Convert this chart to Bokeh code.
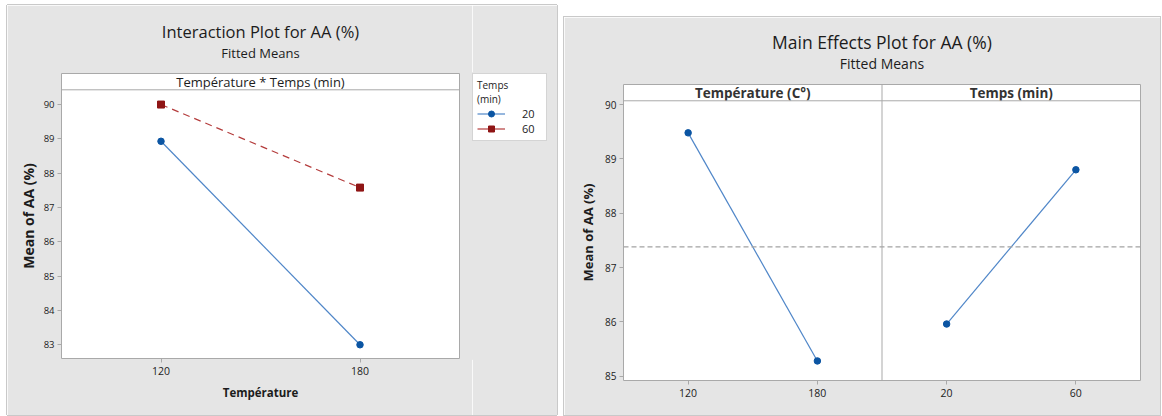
from bokeh.plotting import figure
from bokeh.models import FactorRange, Range1d, Span, Title, Legend, LegendItem, FixedTicker
from bokeh.layouts import row, column
from bokeh.embed import file_html
from bokeh.resources import INLINE
from bokeh.core.properties import value

# ---------------- data ----------------
temperature_levels = ["120", "180"]
time_levels = ["20", "60"]
time_legend_labels = ["20", "60"]
interaction_time_20 = [88.93, 83.00]   # fitted means at Température 120, 180 (Temps 20 min)
interaction_time_60 = [90.00, 87.58]   # fitted means at Température 120, 180 (Temps 60 min)
main_temperature = [89.48, 85.28]
main_time = [85.96, 88.80]
overall_mean = 87.38
y_ticks_interaction = [83, 84, 85, 86, 87, 88, 89, 90]
y_ticks_main = [85, 86, 87, 88, 89, 90]
facet_names = ["Température (C°)", "Temps (min)"]
interaction_strip = "Température * Temps (min)"

# ---------------- style ----------------
FONT = "Open Sans"
BG = "#e5e5e5"
EDGE = "#c9c9c9"
OUTLINE = "#a9a9a9"
TXT = "#1c1c1c"
BLUE = "#0b55a3"
BLUE_LINE = "#4f86c8"
RED = "#8f1515"
RED_LINE = "#b43c3c"

# layout constants (data space of header strips)
Y1_DATA = (82.60, 90.43)
Y1_END = 90.905
Y2_DATA = (84.92, 90.07)
Y2_END = 90.37


def style_axes(p, ytick_size, xtick_size, label_size):
    p.xgrid.visible = False
    p.ygrid.visible = False
    for ax in (p.xaxis[0], p.yaxis[0]):
        ax.axis_line_color = None
        ax.major_tick_line_color = OUTLINE
        ax.major_tick_in = 0
        ax.major_tick_out = 4
        ax.minor_tick_line_color = None
        ax.major_label_text_font = FONT
        ax.major_label_text_color = TXT
        ax.axis_label_text_font = FONT
        ax.axis_label_text_color = TXT
        ax.axis_label_text_font_style = "bold"
        ax.axis_label_text_font_size = label_size
    p.yaxis[0].major_label_text_font_size = ytick_size
    p.xaxis[0].major_label_text_font_size = xtick_size
    p.yaxis[0].major_label_standoff = 3
    p.xaxis[0].major_label_standoff = 4


def add_titles(p, title, sub, tsize, ssize, sub_standoff, title_standoff):
    p.add_layout(Title(text=sub, align="center", text_font=FONT, text_font_size=ssize,
                       text_font_style="normal", text_color=TXT, standoff=sub_standoff), "above")
    p.add_layout(Title(text=title, align="center", text_font=FONT, text_font_size=tsize,
                       text_font_style="normal", text_color=TXT, standoff=title_standoff), "above")


# ---------------- interaction plot ----------------
p1 = figure(width=465, height=410, margin=(5, 0, 0, 7),
            x_range=FactorRange(factors=temperature_levels, range_padding=0),
            y_range=Range1d(Y1_DATA[0], Y1_END),
            output_backend="svg", toolbar_location=None,
            min_border_left=54, min_border_right=13, min_border_top=68, min_border_bottom=57,
            background_fill_color="white", border_fill_color=BG,
            outline_line_color=OUTLINE,
            styles={"box-shadow": f"-1px 0 0 0 {EDGE}, 0 -1px 0 0 {EDGE}, 0 1px 0 0 {EDGE}"})
style_axes(p1, "9.5px", "10.5px", "14px")
p1.xaxis.axis_label = "Température"
p1.xaxis.axis_label_text_font_size = "11.5px"
p1.yaxis.axis_label = "Mean of AA (%)"
p1.yaxis.ticker = FixedTicker(ticks=y_ticks_interaction)
p1.xaxis.axis_label_standoff = 7
p1.yaxis.axis_label_standoff = 3

p1.line(x=temperature_levels, y=interaction_time_20, line_color=BLUE_LINE, line_width=1.2)
p1.scatter(x=temperature_levels, y=interaction_time_20, marker="circle", size=6.5,
           fill_color=BLUE, line_color=BLUE)
p1.line(x=temperature_levels, y=interaction_time_60, line_color=RED_LINE, line_width=1.2,
        line_dash="7 5")
p1.scatter(x=temperature_levels, y=interaction_time_60, marker="square", size=7,
           fill_color=RED, line_color=RED)

p1.add_layout(Span(location=Y1_DATA[1], dimension="width", line_color=OUTLINE, line_width=1))
p1.text(x=[(temperature_levels[0], 0.5)], y=[(Y1_DATA[1] + Y1_END) / 2], text=[interaction_strip],
        text_align="center", text_baseline="middle", text_font=value(FONT),
        text_font_size="13px", text_color=TXT)
add_titles(p1, "Interaction Plot for AA (%)", "Fitted Means", "16.5px", "13px", 24, -26)

# legend panel (right of the interaction plot); its series lie outside its frame,
# only their legend swatches are visible
pl = figure(width=85, height=410, margin=(5, 0, 0, 0),
            x_range=FactorRange(factors=temperature_levels), y_range=Range1d(0, 1),
            x_axis_location=None, y_axis_location=None,
            output_backend="svg", toolbar_location=None,
            min_border_left=0, min_border_right=0, min_border_top=68, min_border_bottom=57,
            background_fill_color=BG, border_fill_color=BG,
            outline_line_color=BG, outline_line_width=3,
            styles={"box-shadow": f"1px 0 0 0 {EDGE}, 0 -1px 0 0 {EDGE}, 0 1px 0 0 {EDGE}"})
pl.xgrid.visible = False
pl.ygrid.visible = False
k20 = [pl.line(x=temperature_levels, y=interaction_time_20, line_color=BLUE_LINE, line_width=1.2),
       pl.scatter(x=temperature_levels, y=interaction_time_20, marker="circle", size=6.5,
                  fill_color=BLUE, line_color=BLUE)]
k60 = [pl.line(x=temperature_levels, y=interaction_time_60, line_color=RED_LINE, line_width=1.2),
       pl.scatter(x=temperature_levels, y=interaction_time_60, marker="square", size=7,
                  fill_color=RED, line_color=RED)]
legend = Legend(items=[LegendItem(label=time_legend_labels[0], renderers=k20),
                       LegendItem(label=time_legend_labels[1], renderers=k60)],
                title="Temps\n(min)", location="top_left", margin=0, padding=4, spacing=0,
                glyph_width=28, glyph_height=15, label_standoff=17,
                label_text_font=FONT, label_text_font_size="11px", label_text_color=TXT,
                title_text_font=FONT, title_text_font_size="10px", title_text_color=TXT,
                title_text_font_style="normal", title_standoff=0,
                background_fill_color="white", background_fill_alpha=1,
                border_line_color=OUTLINE)
pl.add_layout(legend)

# ---------------- main effects plot ----------------
main_factors = temperature_levels + time_levels
p2 = figure(width=596, height=398, margin=(17, 0, 0, 7),
            x_range=FactorRange(factors=main_factors, range_padding=0),
            y_range=Range1d(Y2_DATA[0], Y2_END),
            output_backend="svg", toolbar_location=None,
            min_border_left=59, min_border_right=20, min_border_top=67, min_border_bottom=35,
            background_fill_color="white", border_fill_color=BG,
            outline_line_color=OUTLINE,
            styles={"box-shadow": f"0 0 0 1px {EDGE}"})
style_axes(p2, "10px", "10.5px", "13px")
p2.yaxis.axis_label = "Mean of AA (%)"
p2.yaxis.ticker = FixedTicker(ticks=y_ticks_main)
p2.yaxis.axis_label_standoff = 5

p2.add_layout(Span(location=overall_mean, dimension="width", line_color="#a3a3a3",
                   line_width=1.2, line_dash="5 3"))
p2.add_layout(Span(location=len(temperature_levels), dimension="height", line_color=OUTLINE,
                   line_width=1))
p2.add_layout(Span(location=Y2_DATA[1], dimension="width", line_color=OUTLINE, line_width=1))

for levels, means in ((temperature_levels, main_temperature), (time_levels, main_time)):
    p2.line(x=levels, y=means, line_color=BLUE_LINE, line_width=1.2)
    p2.scatter(x=levels, y=means, marker="circle", size=6.5, fill_color=BLUE, line_color=BLUE)

p2.text(x=[(temperature_levels[0], 0.5), (time_levels[0], 0.5)],
        y=[(Y2_DATA[1] + Y2_END) / 2] * 2, text=facet_names,
        text_align="center", text_baseline="middle", text_font=value(FONT),
        text_font_size="13.5px", text_font_style="bold", text_color="#333333")
add_titles(p2, "Main Effects Plot for AA (%)", "Fitted Means", "17.5px", "14px", 24, -28)

layout = row(column(row(p1, pl)), column(p2))
open("out.html", "w").write(file_html(layout, INLINE))
